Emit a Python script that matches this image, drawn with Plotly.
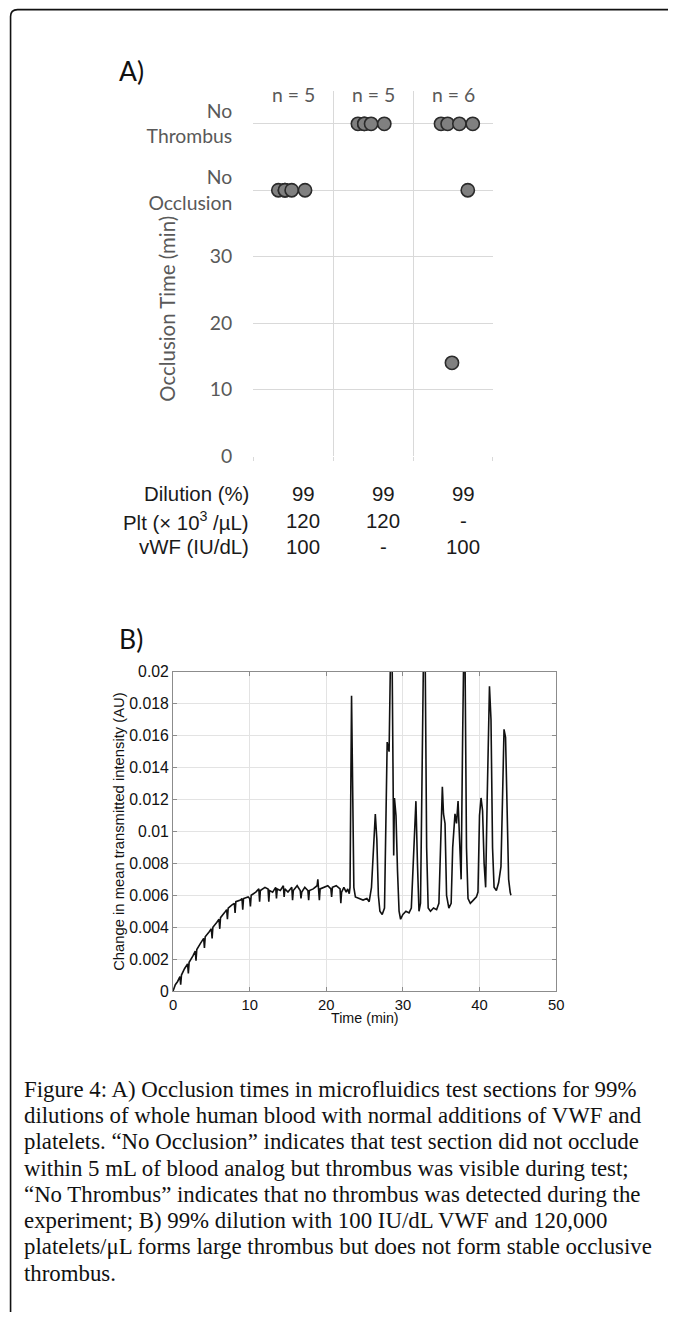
import plotly.graph_objects as go

# Page has an 8px body margin: figure is 660x1304.  Positions below are
# target picture pixels; a small calibration maps them onto the figure.
OFF = 8
W, H = 676 - 2 * OFF, 1320 - 2 * OFF
SX, OX = 0.979, 4.6
SY, OY = 0.985, 9.5
FS = 1.02


def px(x):
    return ((x - OX) / SX - OFF) / W


def py(y):
    return 1 - ((y - OY) / SY - OFF) / H


# ---------------- Panel A data ----------------
group_pos = [1, 2, 3]
n_labels = ["n = 5", "n = 5", "n = 6"]
row_labels = ["Dilution (%)", "Plt (× 10<sup>3</sup> /µL)", "vWF (IU/dL)"]
dilution = ["99", "99", "99"]
platelets = ["120", "120", "-"]
vwf = ["100", "-", "100"]
ytick_vals = [0, 10, 20, 30, 40, 50]
ytick_text = ["0", "10", "20", "30", "No<br>Occlusion", "No<br>Thrombus"]

# occlusion time (min); 40 = "No Occlusion", 50 = "No Thrombus"
g1_times = [40, 40, 40, 40, 40]
g2_times = [50, 50, 50, 50, 50]
g3_times = [50, 50, 50, 50, 40, 14]
# beeswarm offsets of overlapping points within each group
g1_offsets = [-0.186, -0.103, -0.103, -0.019, 0.148]
g2_offsets = [-0.19, -0.11, -0.11, -0.025, 0.14]
g3_offsets = [-0.15, -0.067, 0.08, 0.247, 0.185, -0.013]

# ---------------- Panel B data ----------------
time_min = [
    0, 0.3, 0.6, 0.9, 1.0, 1.1, 1.5, 1.9, 2.0, 2.1, 2.6, 2.9, 3.0, 3.1, 3.6, 4.0, 4.1, 4.2,
    4.7, 5.0, 5.1, 5.2, 5.7, 6.0, 6.1, 6.2, 6.7, 7.0, 7.1, 7.2, 7.7, 8.0, 8.1, 8.2, 8.8,
    9.0, 9.1, 9.2, 9.8, 10.0, 10.1, 10.2, 10.8, 11.2, 11.3, 11.4, 12.0, 12.4, 12.5, 12.6,
    13.0, 13.4, 13.5, 13.6, 14.0, 14.4, 14.5, 14.6, 15.0, 15.5, 15.6, 15.7, 16.2, 16.6,
    16.7, 16.8, 17.2, 17.6, 17.7, 17.8, 18.3, 18.8, 18.9, 19.0, 19.1, 19.2, 19.7, 20.2,
    20.6, 20.7, 20.8, 21.3, 21.8, 21.9, 22.0, 22.3, 22.6, 22.8, 23.0,
    23.1, 23.3, 23.5, 23.6, 23.8, 24.3, 24.8, 25.3, 25.6,
    25.9, 26.2, 26.4, 26.6, 26.8, 27.0, 27.3, 27.6,
    27.8, 27.95, 28.2, 28.4, 28.6, 28.8, 28.9, 29.1, 29.3, 29.5, 29.7, 30.0, 30.4, 30.8, 31.1,
    31.4, 31.7, 31.9, 32.1, 32.3,
    32.5, 32.7, 32.9, 33.1, 33.3, 33.6, 34.0, 34.4, 34.7,
    34.9, 35.15, 35.3, 35.5, 35.7, 36.0, 36.3,
    36.5, 36.8, 37.0, 37.2, 37.4, 37.6,
    37.8, 37.95, 38.1, 38.3, 38.5, 38.8, 39.2, 39.6, 39.8,
    40.0, 40.2, 40.4, 40.6, 40.8,
    41.0, 41.3, 41.5, 41.7, 41.9, 42.2, 42.5, 42.8,
    43.0, 43.2, 43.4, 43.6, 43.8, 44.0, 44.1,
]
intensity = [
    0.0, 0.0004, 0.0006, 0.0009, 0.0004, 0.0010, 0.0014, 0.0017, 0.0011, 0.0018, 0.0022,
    0.0025, 0.0019, 0.0026, 0.0030, 0.0033, 0.0027, 0.0034, 0.0037, 0.0039, 0.0033, 0.0040,
    0.0043, 0.0045, 0.0039, 0.0046, 0.0049, 0.0051, 0.0045, 0.0052, 0.0054, 0.0055, 0.0049,
    0.0056, 0.0057, 0.0058, 0.0051, 0.0058, 0.0059, 0.0058, 0.0053, 0.0060, 0.0062, 0.0064,
    0.0056, 0.0063, 0.0065, 0.0064, 0.0056, 0.0063, 0.0062, 0.0065, 0.0058, 0.0064, 0.0063,
    0.0066, 0.0059, 0.0064, 0.0062, 0.0065, 0.0057, 0.0063, 0.0066, 0.0063, 0.0058, 0.0062,
    0.0065, 0.0063, 0.0057, 0.0063, 0.0064, 0.0066, 0.0070, 0.0062, 0.0057, 0.0064, 0.0065,
    0.0066, 0.0064, 0.0059, 0.0065, 0.0066, 0.0064, 0.0055, 0.0062, 0.0065, 0.0062, 0.0064,
    0.0061,
    0.0065, 0.0185, 0.0120, 0.0065, 0.0059, 0.0058, 0.0057, 0.0058, 0.0056,
    0.0065, 0.0098, 0.0111, 0.0095, 0.0060, 0.0050, 0.0048, 0.0052,
    0.0110, 0.0156, 0.0150, 0.0215, 0.0205, 0.0085, 0.0121, 0.0110, 0.0075, 0.0050, 0.0045,
    0.0048, 0.0050, 0.0049, 0.0052,
    0.0090, 0.0119, 0.0080, 0.0050, 0.0055,
    0.0150, 0.0215, 0.0215, 0.0090, 0.0052, 0.0050, 0.0052, 0.0051, 0.0055,
    0.0095, 0.0128, 0.0111, 0.0105, 0.0060, 0.0052, 0.0055,
    0.0090, 0.0111, 0.0105, 0.0119, 0.0090, 0.0070,
    0.0160, 0.0215, 0.0215, 0.0090, 0.0058, 0.0055, 0.0057, 0.0059, 0.0062,
    0.0110, 0.0121, 0.0113, 0.0080, 0.0065,
    0.0120, 0.0191, 0.0170, 0.0090, 0.0065, 0.0063, 0.0068, 0.0078,
    0.0120, 0.0164, 0.0159, 0.0110, 0.0070, 0.0062, 0.0060,
]
b_ytick_vals = [0, 0.002, 0.004, 0.006, 0.008, 0.01, 0.012, 0.014, 0.016, 0.018, 0.02]
b_ytick_text = ["0", "0.002", "0.004", "0.006", "0.008", "0.01", "0.012", "0.014",
                "0.016", "0.018", "0.02"]
b_xtick_vals = [0, 10, 20, 30, 40, 50]

caption_lines = [
    "Figure 4: A) Occlusion times in microfluidics test sections for 99%",
    "dilutions of whole human blood with normal additions of VWF and",
    "platelets. “No Occlusion” indicates that test section did not occlude",
    "within 5 mL of blood analog but thrombus was visible during test;",
    "“No Thrombus” indicates that no thrombus was detected during the",
    "experiment; B) 99% dilution with 100 IU/dL VWF and 120,000",
    "platelets/μL forms large thrombus but does not form stable occlusive",
    "thrombus.",
]

GRID = "#d9d9d9"
TXT_A = "#595959"
FONT_A = "Lato"
FONT_B = "Liberation Sans, Arial"

fig = go.Figure()

marker = dict(size=13 * FS, color="#808080", line=dict(color="#2b2b2b", width=1.6))
for pos, times, offs in [(1, g1_times, g1_offsets), (2, g2_times, g2_offsets),
                         (3, g3_times, g3_offsets)]:
    fig.add_trace(go.Scatter(
        x=[pos + o for o in offs], y=times, mode="markers", marker=marker,
        xaxis="x", yaxis="y", showlegend=False, hoverinfo="skip"))

fig.add_trace(go.Scatter(
    x=time_min, y=intensity, mode="lines", line=dict(color="#111111", width=1.6),
    xaxis="x2", yaxis="y2", showlegend=False, hoverinfo="skip"))

fig.update_layout(
    width=W, height=H, margin=dict(l=0, r=0, t=0, b=0),
    paper_bgcolor="white", plot_bgcolor="white", showlegend=False,
    xaxis=dict(domain=[px(253), px(492)], range=[0.5, 3.5],
               tickvals=[0.5, 1.5, 2.5, 3.5], showticklabels=False,
               showgrid=True, gridcolor=GRID, gridwidth=1, zeroline=False,
               showline=False, ticks="outside", ticklen=4, tickcolor=GRID,
               anchor="y"),
    yaxis=dict(domain=[py(457), py(92)], range=[0, 55],
               tickvals=ytick_vals, ticktext=ytick_text,
               showgrid=True, gridcolor=GRID, gridwidth=1, zeroline=False,
               showline=False, ticks="", ticklabelstandoff=20,
               tickfont=dict(family=FONT_A, size=19 * FS, color=TXT_A), anchor="x"),
    xaxis2=dict(domain=[px(173), px(555)], range=[0, 50], tickvals=b_xtick_vals,
                showgrid=True, gridcolor="#e3e3e3", zeroline=False,
                showline=True, linecolor="#8c8c8c", linewidth=1, mirror="ticks",
                ticks="inside", ticklen=4, tickcolor="#8c8c8c",
                tickfont=dict(family=FONT_B, size=14.5 * FS, color="#111111"),
                anchor="y2"),
    yaxis2=dict(domain=[py(992), py(673)], range=[0, 0.02],
                tickvals=b_ytick_vals, ticktext=b_ytick_text,
                showgrid=True, gridcolor="#e3e3e3", zeroline=False,
                showline=True, linecolor="#8c8c8c", linewidth=1, mirror="ticks",
                ticks="inside", ticklen=4, tickcolor="#8c8c8c",
                tickfont=dict(family=FONT_B, size=15.5 * FS, color="#111111"),
                anchor="x2"),
)

ann = []
# Panel labels
ann.append(dict(text="A)", x=px(117), y=py(72), xref="paper", yref="paper",
                xanchor="left", yanchor="middle", showarrow=False,
                font=dict(family=FONT_A, size=26 * FS, color="#111111")))
ann.append(dict(text="B)", x=px(117), y=py(640), xref="paper", yref="paper",
                xanchor="left", yanchor="middle", showarrow=False,
                font=dict(family=FONT_A, size=26 * FS, color="#111111")))
# n labels
for pos, lab in zip(group_pos, n_labels):
    ann.append(dict(text=lab, x=pos, y=py(96), xref="x", yref="paper",
                    xanchor="center", yanchor="middle", showarrow=False,
                    font=dict(family=FONT_A, size=19 * FS, color=TXT_A)))
# y title A
ann.append(dict(text="Occlusion Time (min)", x=px(167), y=py(310), xref="paper",
                yref="paper", textangle=-90, showarrow=False,
                xanchor="center", yanchor="middle",
                font=dict(family=FONT_A, size=20 * FS, color=TXT_A)))
# condition table
row_y = [495, 522, 548]
for ry, lab, vals in zip(row_y, row_labels, [dilution, platelets, vwf]):
    ann.append(dict(text=lab, x=px(251), y=py(ry), xref="paper", yref="paper",
                    xanchor="right", yanchor="middle", showarrow=False,
                    font=dict(family=FONT_B, size=20 * FS, color="#1a1a1a")))
    for pos, v in zip(group_pos, vals):
        ann.append(dict(text=v, x=pos, y=py(ry), xref="x", yref="paper",
                        xanchor="center", yanchor="middle", showarrow=False,
                        xshift=10,
                        font=dict(family=FONT_B, size=20 * FS, color="#1a1a1a")))
# panel B titles
ann.append(dict(text="Change in mean transmitted intensity (AU)", x=px(119),
                y=py(832), xref="paper", yref="paper", textangle=-90,
                showarrow=False, xanchor="center", yanchor="middle",
                font=dict(family=FONT_B, size=14.5 * FS, color="#111111")))
ann.append(dict(text="Time (min)", x=px(364), y=py(1019), xref="paper",
                yref="paper", showarrow=False, xanchor="center", yanchor="middle",
                font=dict(family=FONT_B, size=14 * FS, color="#111111")))
# caption
cap_top, cap_pitch = 1090, 26.3
for i, line in enumerate(caption_lines):
    ann.append(dict(text=line, x=px(22), y=py(cap_top + i * cap_pitch),
                    xref="paper", yref="paper", xanchor="left", yanchor="middle",
                    showarrow=False,
                    font=dict(family="Liberation Serif", size=22.4 * FS,
                              color="#111111")))
fig.update_layout(annotations=ann)

# outer frame with rounded top-left corner
frame = (f"M {px(11)} {py(1340)} L {px(11)} {py(18)} "
         f"Q {px(11)} {py(11)} {px(18)} {py(11)} L {px(700)} {py(11)}")
fig.add_shape(type="path", path=frame, xref="paper", yref="paper",
              line=dict(color="#111111", width=1.6))

fig.write_html("out.html", config={"displayModeBar": False})
